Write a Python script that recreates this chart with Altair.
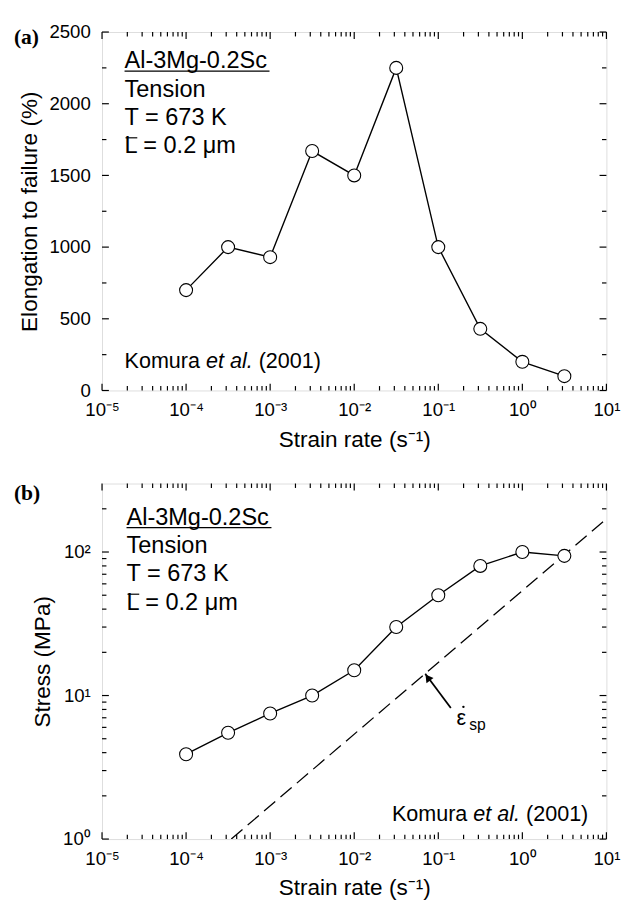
import altair as alt
import pandas as pd

# ---------------- data ----------------
rate = [1e-4, 3.16e-4, 1e-3, 3.16e-3, 1e-2, 3.16e-2, 1e-1, 3.16e-1, 1.0, 3.16]
elongation = [700, 1000, 930, 1670, 1500, 2250, 1000, 430, 200, 100]
stress = [3.9, 5.5, 7.5, 10, 15, 30, 50, 80, 100, 94]

dash_rate = [3.45e-4, 10.0]
dash_stress = [1.0, 170.0]

arrow_rate = [0.141, 0.070]
arrow_stress = [8.2, 14.2]

x_major = [1e-5, 1e-4, 1e-3, 1e-2, 1e-1, 1.0, 10.0]
x_minor = [m * 10.0 ** k for k in range(-5, 1) for m in range(2, 10)]
ya_major = [0, 500, 1000, 1500, 2000, 2500]
ya_minor = [250, 750, 1250, 1750, 2250]
yb_major = [1, 10, 100]
yb_minor = [2, 3, 4, 5, 6, 7, 8, 9, 20, 30, 40, 50, 60, 70, 80, 90, 200]

FONT = "Liberation Sans"
W = 515
HA = 366
HB = 363

df = pd.DataFrame({"rate": rate, "elong": elongation, "stress": stress})
dash_df = pd.DataFrame({"rate": dash_rate, "stress": dash_stress})
arrow_df = pd.DataFrame({"rate": arrow_rate, "stress": arrow_stress})
one = pd.DataFrame({"a": [0]})

xscale = alt.Scale(type="log", domain=[1e-5, 10], nice=False)
ya_scale = alt.Scale(domain=[0, 2500], nice=False, zero=False)
yb_scale = alt.Scale(type="log", domain=[1, 300], nice=False)

SUP = "['\u207b\u2075','\u207b\u2074','\u207b\u00b3','\u207b\u00b2','\u207b\u00b9','\u2070','\u00b9','\u00b2']"
x_label_expr = "'10' + " + SUP + "[round(log(datum.value)/LN10)+5]"
yb_label_expr = "'10' + ['\u2070','\u00b9','\u00b2'][round(log(datum.value)/LN10)]"

MAJ = 7
MIN = 4.5
TICK_W = 1.2


def label_axis(orient, values, title, label_expr=None, pad=11, title_pad=8, fmt=None):
    kw = dict(orient=orient, values=values, ticks=False, domain=False, grid=False,
              labelFont=FONT, labelFontSize=19, labelColor="black",
              labelPadding=pad, labelFlush=False, labelOverlap=False,
              labelBound=False, title=title, titleFont=FONT, titleFontSize=23,
              titleFontWeight="normal", titleColor="black", titlePadding=title_pad)
    if label_expr:
        kw["labelExpr"] = label_expr
    if fmt:
        kw["format"] = fmt
    return alt.Axis(**kw)


def tick_layers(yscale, ymajor, yminor, H):
    out = []
    for vals, ln in ((x_major, MAJ), (x_minor, MIN)):
        d = pd.DataFrame({"rate": vals})
        xs = alt.X("rate:Q", scale=xscale, axis=None)
        out.append(alt.Chart(d).mark_rule(color="black", strokeWidth=TICK_W).encode(
            x=xs, y=alt.value(H), y2=alt.value(H - ln)))
        out.append(alt.Chart(d).mark_rule(color="black", strokeWidth=TICK_W).encode(
            x=xs, y=alt.value(0), y2=alt.value(ln)))
    for vals, ln in ((ymajor, MAJ), (yminor, MIN)):
        d = pd.DataFrame({"v": vals})
        ys = alt.Y("v:Q", scale=yscale, axis=None)
        out.append(alt.Chart(d).mark_rule(color="black", strokeWidth=TICK_W).encode(
            y=ys, x=alt.value(0), x2=alt.value(ln)))
        out.append(alt.Chart(d).mark_rule(color="black", strokeWidth=TICK_W).encode(
            y=ys, x=alt.value(W), x2=alt.value(W - ln)))
    return out


def data_layers(base, yfield, yscale, ymajor, ytitle, ylabel_expr, fmt):
    l_main = base.mark_line(color="black", strokeWidth=1.4).encode(
        x=alt.X("rate:Q", scale=xscale,
                axis=label_axis("bottom", x_major, "Strain rate (s\u207b\u00b9)",
                                label_expr=x_label_expr, pad=11, title_pad=9)),
        y=alt.Y(yfield, scale=yscale,
                axis=label_axis("left", ymajor, ytitle, label_expr=ylabel_expr,
                                pad=12, title_pad=8, fmt=fmt)),
    )
    pts = base.mark_point(shape="circle", filled=True, fill="white",
                          stroke="black", strokeWidth=1.1, size=175,
                          opacity=1).encode(
        x=alt.X("rate:Q", scale=xscale, axis=None),
        y=alt.Y(yfield, scale=yscale, axis=None),
    )
    return [l_main, pts]


def txt(s, x, y, size=24, align="left", font=FONT, **kw):
    return alt.Chart(one).mark_text(text=s, align=align, baseline="middle",
                                    font=font, fontSize=size, color="black",
                                    **kw).encode(x=alt.value(x), y=alt.value(y))


def hrule(x1, x2, y, w=1.3):
    return alt.Chart(one).mark_rule(color="black", strokeWidth=w).encode(
        x=alt.value(x1), x2=alt.value(x2), y=alt.value(y))


def dot(x, y, size=5):
    return alt.Chart(one).mark_point(shape="circle", filled=True, color="black",
                                     size=size, opacity=1).encode(
        x=alt.value(x), y=alt.value(y))


def info_block(x0, y0, dy):
    return [
        txt("Al-3Mg-0.2Sc", x0, y0),
        hrule(x0, x0 + 148, y0 + 10),
        txt("Tension", x0, y0 + dy),
        txt("T = 673 K", x0, y0 + 2 * dy),
        txt("L = 0.2 \u03bcm", x0, y0 + 3 * dy),
        hrule(x0 + 1, x0 + 13, y0 + 3 * dy - 9, w=1.2),
    ]


def komura(x0, y0, size=22):
    w1 = 3.501 * size
    w_sp = 0.278 * size
    w2 = 2.168 * size
    return [
        txt("Komura", x0, y0, size=size),
        txt("et al.", x0 + w1 + w_sp, y0, size=size, fontStyle="italic"),
        txt("(2001)", x0 + w1 + w2 + 2 * w_sp, y0, size=size),
    ]


# ---------------- panel (a) ----------------
base_a = alt.Chart(df)
layers_a = tick_layers(ya_scale, ya_major, ya_minor, HA)
layers_a += data_layers(base_a, "elong:Q", ya_scale, ya_major,
                        "Elongation to failure (%)", None, "d")
layers_a += info_block(23, 30, 29)
layers_a += komura(23, 336)
layers_a += [txt("(a)", -90, 5, size=22, font="Liberation Serif", fontWeight="bold")]

panel_a = alt.layer(*layers_a).resolve_axis(
    x="independent", y="independent").properties(width=W, height=HA)

# ---------------- panel (b) ----------------
base_b = alt.Chart(df)
dash = alt.Chart(dash_df).mark_line(color="black", strokeWidth=1.3,
                                    strokeDash=[15, 7], clip=True).encode(
    x=alt.X("rate:Q", scale=xscale, axis=None),
    y=alt.Y("stress:Q", scale=yb_scale, axis=None))
arrow = alt.Chart(arrow_df).mark_line(color="black", strokeWidth=1.8).encode(
    x=alt.X("rate:Q", scale=xscale, axis=None),
    y=alt.Y("stress:Q", scale=yb_scale, axis=None))
head = alt.Chart(arrow_df.iloc[[1]]).mark_point(
    shape="triangle-up", filled=True, color="black", size=80, opacity=1,
    angle=323, yOffset=4, xOffset=2.5).encode(
    x=alt.X("rate:Q", scale=xscale, axis=None),
    y=alt.Y("stress:Q", scale=yb_scale, axis=None))
layers_b = tick_layers(yb_scale, yb_major, yb_minor, HB)
layers_b += [dash, arrow, head]
layers_b += data_layers(base_b, "stress:Q", yb_scale, yb_major,
                        "Stress (MPa)", yb_label_expr, None)
layers_b += info_block(25, 35, 29)
layers_b += komura(296, 338)
layers_b += [txt("\u03b5", 362, 240, size=22),
             dot(369, 228, size=6),
             txt("sp", 375, 247, size=16),
             txt("(b)", -90, 10, size=22, font="Liberation Serif", fontWeight="bold")]

panel_b = alt.layer(*layers_b).resolve_axis(
    x="independent", y="independent").properties(width=W, height=HB)

chart = alt.vconcat(panel_a, panel_b, spacing=95, bounds="flush").configure_view(
    stroke="black", strokeWidth=1.3).configure(background="white")

chart.save("out.html", embed_options={"renderer": "svg", "actions": False})
